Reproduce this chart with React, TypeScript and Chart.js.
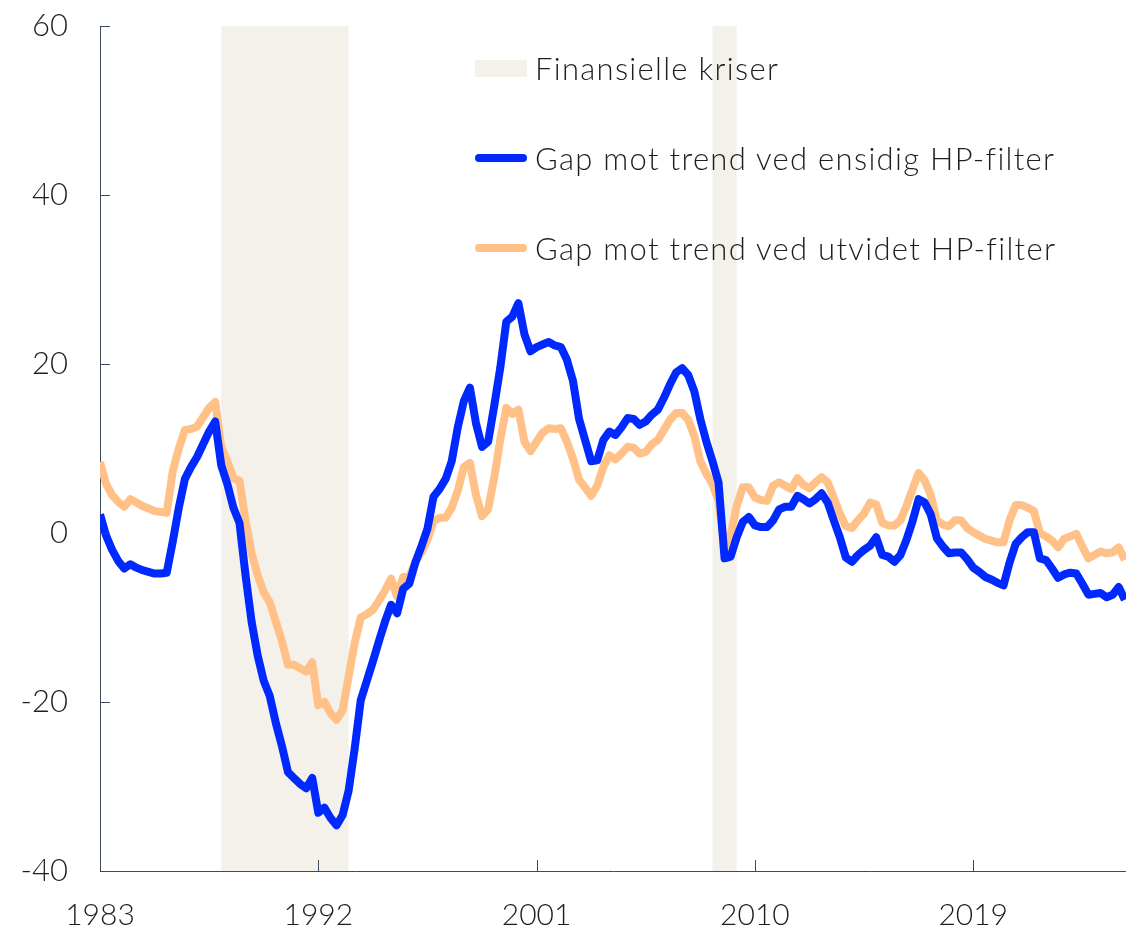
import React, { useEffect, useRef } from "react";
import { Chart, registerables } from "chart.js";

Chart.register(...registerables);

const START_YEAR = 1983;
const X_TICKS = [1983, 1992, 2001, 2010, 2019];
const Y_TICKS = [-40, -20, 0, 20, 40, 60];

const CRISIS_START = [1988.0, 2008.25];
const CRISIS_END = [1993.25, 2009.25];

const LABEL_CRISES = "Finansielle kriser";
const LABEL_ONE_SIDED = "Gap mot trend ved ensidig HP-filter";
const LABEL_EXTENDED = "Gap mot trend ved utvidet HP-filter";

// Quarterly values, 1983Q1 onwards
const ONE_SIDED = [
  2.2, -0.3, -2.0, -3.3, -4.2, -3.7, -4.1, -4.4, -4.6, -4.8,
  -4.8, -4.7, -1.0, 3.0, 6.4, 7.8, 9.0, 10.5, 12.0, 13.2,
  8.0, 5.8, 3.0, 1.2, -5.0, -10.5, -14.5, -17.5, -19.3, -22.5,
  -25.2, -28.3, -29.0, -29.7, -30.2, -29.0, -33.1, -32.5, -33.7, -34.6,
  -33.4, -30.5, -25.5, -19.8, -17.5, -15.2, -12.8, -10.5, -8.5, -9.5,
  -6.6, -6.0, -3.5, -1.6, 0.5, 4.3, 5.2, 6.4, 8.5, 12.5,
  15.6, 17.2, 13.0, 10.2, 10.8, 15.0, 19.5, 25.0, 25.6, 27.2,
  23.5, 21.5, 22.0, 22.3, 22.6, 22.2, 22.0, 20.5, 18.0, 13.5,
  11.0, 8.5, 8.6, 11.0, 12.0, 11.6, 12.5, 13.6, 13.5, 12.8,
  13.2, 14.0, 14.6, 16.0, 17.6, 19.0, 19.5, 18.7, 16.8, 13.5,
  10.8, 8.5, 6.0, -3.0, -2.8, -0.5, 1.3, 1.9, 0.9, 0.7,
  0.7, 1.5, 2.8, 3.1, 3.1, 4.4, 4.0, 3.5, 4.0, 4.7,
  3.6, 1.5, -0.5, -2.9, -3.4, -2.6, -2.0, -1.5, -0.5, -2.6,
  -2.8, -3.4, -2.6, -0.8, 1.4, 4.0, 3.6, 2.2, -0.6, -1.6,
  -2.4, -2.3, -2.3, -3.1, -4.1, -4.6, -5.2, -5.5, -5.9, -6.2,
  -3.5, -1.3, -0.5, 0.1, 0.1, -3.0, -3.2, -4.2, -5.3, -4.9,
  -4.7, -4.8, -6.0, -7.3, -7.2, -7.1, -7.6, -7.3, -6.4, -7.9,
];

const EXTENDED = [
  8.4, 5.8, 4.5, 3.7, 3.1, 4.0, 3.6, 3.2, 2.9, 2.6,
  2.5, 2.4, 7.3, 10.0, 12.2, 12.3, 12.6, 13.7, 14.8, 15.5,
  10.2, 8.5, 6.5, 6.2, 1.5, -2.4, -5.0, -7.0, -8.2, -10.5,
  -12.8, -15.6, -15.6, -16.0, -16.4, -15.3, -20.4, -20.0, -21.3, -22.1,
  -21.0, -17.0, -13.0, -10.0, -9.6, -9.1, -8.0, -6.8, -5.4, -7.5,
  -5.2, -5.2, -3.4, -2.3, -0.8, 1.4, 1.8, 1.8, 3.0, 5.0,
  7.8, 8.3, 4.5, 2.0, 2.8, 6.5, 11.0, 14.8, 14.1, 14.6,
  10.8, 9.7, 10.8, 11.9, 12.4, 12.3, 12.4, 10.8, 8.8, 6.3,
  5.4, 4.4, 5.6, 7.8, 9.2, 8.7, 9.4, 10.2, 10.1, 9.4,
  9.6, 10.5, 11.0, 12.2, 13.4, 14.2, 14.2, 13.4, 11.5, 8.5,
  7.0, 5.8, 3.8, -1.8, -0.3, 3.2, 5.4, 5.4, 4.2, 3.9,
  3.8, 5.6, 6.0, 5.6, 5.2, 6.5, 5.7, 5.3, 6.0, 6.6,
  6.0, 4.2, 2.3, 0.8, 0.6, 1.5, 2.3, 3.6, 3.4, 1.2,
  0.9, 0.9, 1.5, 3.2, 5.2, 7.1, 6.2, 4.5, 1.5, 1.0,
  0.8, 1.5, 1.5, 0.6, 0.1, -0.3, -0.7, -0.9, -1.1, -1.1,
  1.5, 3.3, 3.3, 3.0, 2.6, 0.0, -0.4, -0.9, -1.7, -0.7,
  -0.4, -0.1, -1.6, -3.0, -2.6, -2.2, -2.4, -2.3, -1.7, -3.2,
];

const BLUE = "#0029ff";
const ORANGE = "#ffc187";
const SHADE = "#f4f1eb";
const AXIS = "#3b4a5e";
const TEXT = "#1e1e1e";
const FONT = "Lato, 'Open Sans', sans-serif";

const toPoints = (vals: number[]) =>
  vals.map((v, i) => ({ x: START_YEAR + i / 4, y: v }));

const crisisPlugin = {
  id: "crises",
  beforeDatasetsDraw(chart: any) {
    const { ctx, chartArea, scales } = chart;
    const x = scales.x;
    ctx.save();
    ctx.fillStyle = SHADE;
    CRISIS_START.forEach((s, k) => {
      const x0 = x.getPixelForValue(s);
      const x1 = x.getPixelForValue(CRISIS_END[k]);
      ctx.fillRect(x0, chartArea.top, x1 - x0, chartArea.bottom - chartArea.top);
    });
    ctx.restore();
  },
};

const tickMarkPlugin = {
  id: "innerTicks",
  afterDraw(chart: any) {
    const { ctx, chartArea, scales } = chart;
    ctx.save();
    ctx.strokeStyle = AXIS;
    ctx.lineWidth = 1;
    ctx.beginPath();
    scales.y.ticks.forEach((t: any) => {
      const py = Math.round(scales.y.getPixelForValue(t.value)) + 0.5;
      ctx.moveTo(chartArea.left, py);
      ctx.lineTo(chartArea.left + 10, py);
    });
    scales.x.ticks.forEach((t: any) => {
      const px = Math.round(scales.x.getPixelForValue(t.value)) + 0.5;
      ctx.moveTo(px, chartArea.bottom);
      ctx.lineTo(px, chartArea.bottom - 11);
    });
    ctx.stroke();
    ctx.restore();
  },
};

export default function App() {
  const canvasRef = useRef<HTMLCanvasElement | null>(null);

  useEffect(() => {
    if (!canvasRef.current) return;
    const chart = new Chart(canvasRef.current, {
      type: "line",
      data: {
        datasets: [
          {
            label: LABEL_ONE_SIDED,
            data: toPoints(ONE_SIDED),
            borderColor: BLUE,
            backgroundColor: BLUE,
            borderWidth: 8,
            pointRadius: 0,
            tension: 0,
            borderJoinStyle: "round",
          },
          {
            label: LABEL_EXTENDED,
            data: toPoints(EXTENDED),
            borderColor: ORANGE,
            backgroundColor: ORANGE,
            borderWidth: 8,
            pointRadius: 0,
            tension: 0,
            borderJoinStyle: "round",
          },
        ],
      },
      options: {
        animation: false,
        responsive: true,
        maintainAspectRatio: false,
        layout: { padding: { top: 26, right: 0, bottom: 0, left: 0 } },
        plugins: {
          legend: { display: false },
          tooltip: { enabled: false },
        },
        scales: {
          x: {
            type: "linear",
            min: 1983,
            max: 2025.3,
            grid: { display: false },
            border: { display: true, color: AXIS, width: 1 },
            ticks: {
              autoSkip: false,
              maxRotation: 0,
              padding: 18,
              color: TEXT,
              font: { family: FONT, size: 30, weight: "300" },
              callback: (v: any) => String(v),
            },
            afterBuildTicks: (s: any) => {
              s.ticks = X_TICKS.map((v) => ({ value: v }));
            },
            afterFit: (s: any) => {
              s.height = 57;
              s.paddingLeft = 0;
              s.paddingRight = 0;
            },
          },
          y: {
            min: -40,
            max: 60,
            grid: { display: false },
            border: { display: true, color: AXIS, width: 1 },
            ticks: {
              padding: 24,
              color: TEXT,
              font: { family: FONT, size: 31, weight: "300" },
            },
            afterBuildTicks: (s: any) => {
              s.ticks = Y_TICKS.map((v) => ({ value: v }));
            },
            afterFit: (s: any) => {
              s.width = 100;
              s.paddingTop = 0;
              s.paddingBottom = 0;
            },
          },
        },
      },
      plugins: [crisisPlugin, tickMarkPlugin],
    });
    return () => chart.destroy();
  }, []);

  const legendItems = [
    { label: LABEL_CRISES, kind: "box", color: SHADE },
    { label: LABEL_ONE_SIDED, kind: "line", color: BLUE },
    { label: LABEL_EXTENDED, kind: "line", color: ORANGE },
  ];

  return (
    <div
      style={{
        position: "fixed",
        left: 0,
        top: 0,
        width: 1126,
        height: 928,
        background: "#fff",
      }}
    >
      <canvas ref={canvasRef} />
      <div style={{ position: "absolute", left: 475, top: 48, pointerEvents: "none" }}>
        {legendItems.map((it, k) => (
          <div
            key={it.label}
            style={{
              position: "absolute",
              left: 0,
              top: k * 90,
              height: 40,
              display: "flex",
              alignItems: "center",
              whiteSpace: "nowrap",
            }}
          >
            {it.kind === "box" ? (
              <div style={{ width: 52, height: 17, background: it.color, marginRight: 8 }} />
            ) : (
              <div
                style={{
                  width: 52,
                  height: 8,
                  borderRadius: 4,
                  background: it.color,
                  marginRight: 8,
                }}
              />
            )}
            <span
              style={{
                fontFamily: FONT,
                fontWeight: 300,
                fontSize: 31,
                letterSpacing: "1.3px",
                color: TEXT,
                lineHeight: "40px",
              }}
            >
              {it.label}
            </span>
          </div>
        ))}
      </div>
    </div>
  );
}
